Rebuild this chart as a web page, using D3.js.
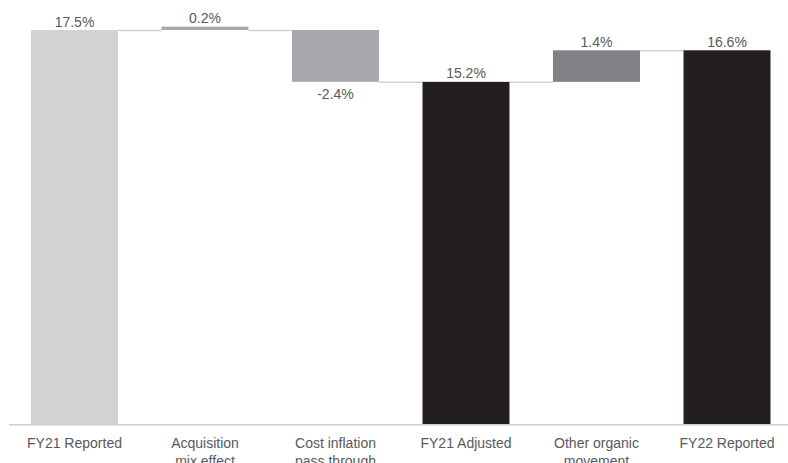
<!DOCTYPE html>
<html>
<head>
<meta charset="utf-8">
<script src="https://cdn.jsdelivr.net/npm/d3@7"></script>
<style>
  body { margin: 0; background: #fff; }
  svg text { font-family: "Liberation Sans", Arial, sans-serif; }
</style>
</head>
<body>
<div id="chart"></div>
<script>
// waterfall: FY21 -> FY22 margin bridge
var categories = ["FY21 Reported", "Acquisition\nmix effect", "Cost inflation\npass through",
                  "FY21 Adjusted", "Other organic\nmovement", "FY22 Reported"];
var valueLabels = ["17.5%", "0.2%", "-2.4%", "15.2%", "1.4%", "16.6%"];
var barLow  = [0, 17.5, 15.2, 0, 15.2, 0];
var barHigh = [17.5, 17.65, 17.5, 15.2, 16.6, 16.6];
var isNegative = [false, false, true, false, false, false];
var stepLevels = [17.5, 17.5, 15.2, 15.2, 16.6];   // connector between bar i and i+1
var barColors = ["#d1d2d4", "#a7a9ac", "#a7a9ac", "#231f20", "#808285", "#231f20"];

var width = 788, height = 463;

var svg = d3.select("#chart")
    .append("svg")
    .attr("width", width)
    .attr("height", height);

var x = d3.scaleBand()
    .domain(categories)
    .range([9.25, 792.25])
    .paddingInner(1 / 3)
    .paddingOuter(1 / 6);

var y = d3.scaleLinear()
    .domain([0, 17.5])
    .range([424.5, 30]);

// connectors
svg.append("g")
    .selectAll("line")
    .data(stepLevels)
    .enter().append("line")
    .attr("x1", function (d, i) { return x(categories[i]) + x.bandwidth(); })
    .attr("x2", function (d, i) { return x(categories[i + 1]); })
    .attr("y1", function (d) { return y(d) + 0.5; })
    .attr("y2", function (d) { return y(d) + 0.5; })
    .attr("stroke", "#cfd0d2")
    .attr("stroke-width", 1.5);

// bars
svg.append("g")
    .selectAll("rect")
    .data(categories)
    .enter().append("rect")
    .attr("x", function (d) { return x(d); })
    .attr("width", x.bandwidth())
    .attr("y", function (d, i) { return y(barHigh[i]); })
    .attr("height", function (d, i) { return y(barLow[i]) - y(barHigh[i]); })
    .attr("fill", function (d, i) { return barColors[i]; });

// baseline
svg.append("line")
    .attr("x1", 9)
    .attr("x2", 788)
    .attr("y1", y(0) + 0.3)
    .attr("y2", y(0) + 0.3)
    .attr("stroke", "#cfd0d2")
    .attr("stroke-width", 1.5);

// value labels
svg.append("g")
    .selectAll("text")
    .data(valueLabels)
    .enter().append("text")
    .attr("x", function (d, i) { return x(categories[i]) + x.bandwidth() / 2; })
    .attr("y", function (d, i) {
        return isNegative[i] ? y(barLow[i]) + 17 : y(barHigh[i]) - 3.5;
    })
    .attr("text-anchor", "middle")
    .attr("font-size", 14)
    .attr("fill", "#58595b")
    .text(function (d) { return d; });

// category labels (may wrap to two lines)
var catG = svg.append("g")
    .selectAll("text")
    .data(categories)
    .enter().append("text")
    .attr("x", function (d) { return x(d) + x.bandwidth() / 2; })
    .attr("y", 447.5)
    .attr("text-anchor", "middle")
    .attr("font-size", 14)
    .attr("fill", "#58595b");

catG.selectAll("tspan")
    .data(function (d) { return d.split("\n"); })
    .enter().append("tspan")
    .attr("x", function () { return d3.select(this.parentNode).attr("x"); })
    .attr("dy", function (d, i) { return i === 0 ? 0 : 18; })
    .text(function (d) { return d; });
</script>
</body>
</html>
